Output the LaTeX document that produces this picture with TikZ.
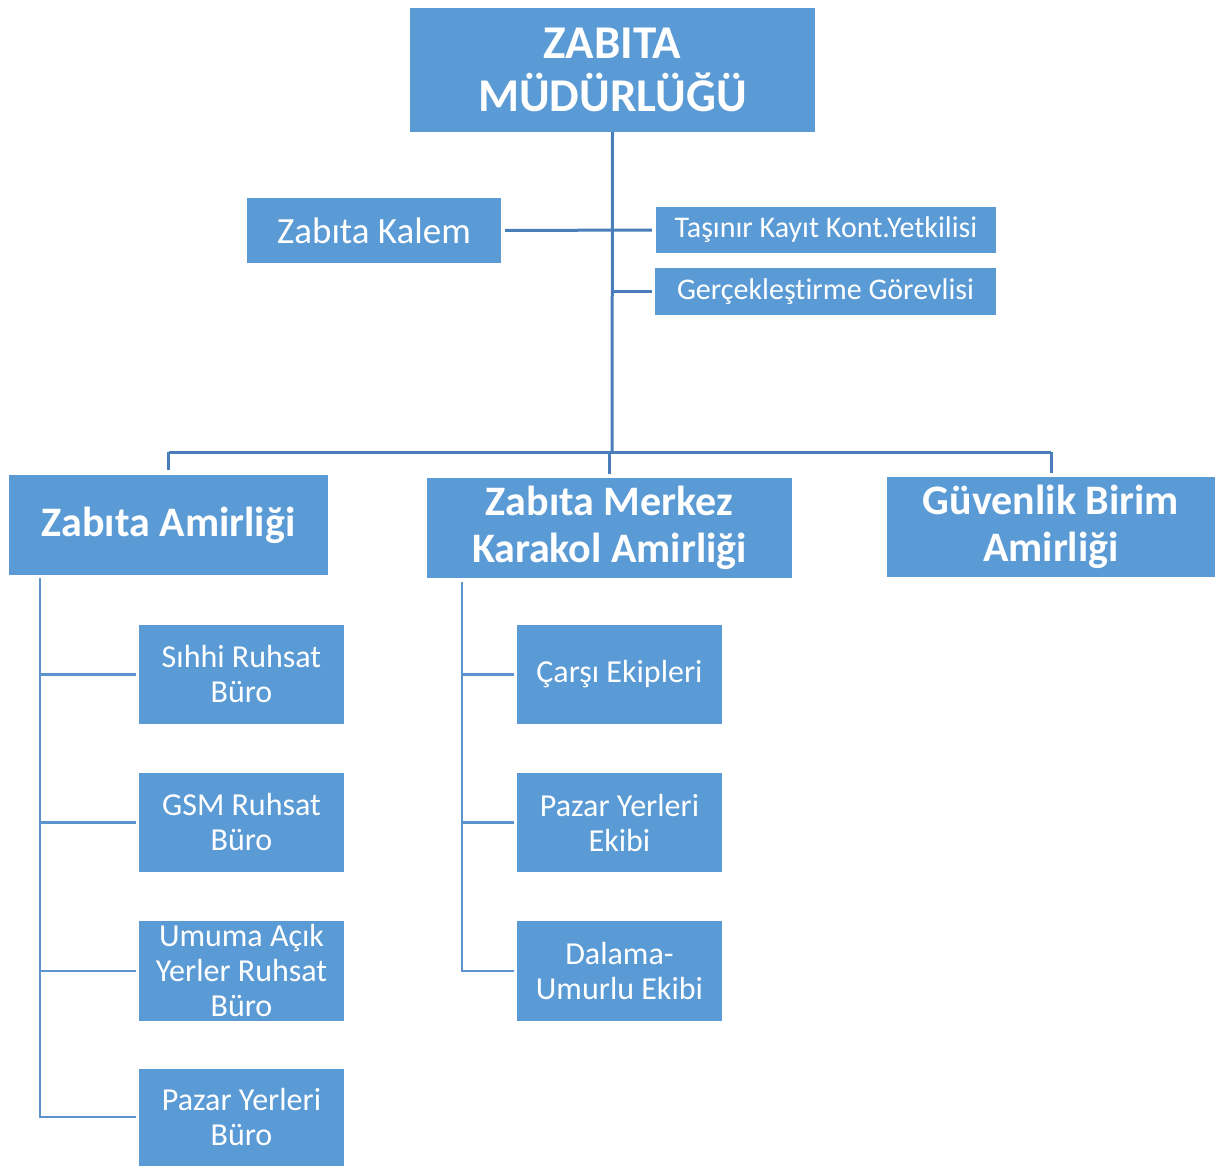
\documentclass[tikz,border=0pt]{standalone}
\usepackage{fontspec}
\setmainfont[Ligatures={NoCommon}]{Carlito}
\definecolor{boxblue}{HTML}{5B9BD5}
\definecolor{toplink}{HTML}{4A7EBB}
\definecolor{sublink}{HTML}{5B93CC}
\begin{document}
\begin{tikzpicture}[x=1pt,y=-1pt,
  box/.style={fill=boxblue, draw=none, text=white, align=center, inner sep=0pt,
    minimum width=#1},
  hdr/.style={font=\fontsize{47}{53}\selectfont\bfseries},
  lvl/.style={font=\fontsize{42}{47}\selectfont\bfseries},
  side/.style={font=\fontsize{30}{32}\selectfont},
  leaf/.style={font=\fontsize{32}{35}\selectfont},
  toplinks/.style={draw=toplink, line width=3pt},
  sublinks/.style={draw=sublink, line width=2.6pt}]
\useasboundingbox (0,0) rectangle (1219,1166);

% head office
\node[box=405pt, hdr, minimum height=124pt] (top) at (612.5,70) {ZABITA\\MÜDÜRLÜĞÜ};

% staff units beside the trunk
\node[box=254pt, minimum height=65pt, font=\fontsize{37}{42}\selectfont] (kalem) at (374,230.5) {Zabıta Kalem};
\node[box=340pt, minimum height=46pt, side] (tasinir) at (826,230) {Taşınır Kayıt Kont.Yetkilisi};
\node[box=341pt, minimum height=47pt, side] (gerc) at (825.5,291.5) {Gerçekleştirme Görevlisi};

% second level
\node[box=319pt, minimum height=100pt, lvl] (za) at (168.5,525) {Zabıta Amirliği};
\node[box=365pt, minimum height=100pt, lvl] (zmk) at (609.5,528) {Zabıta Merkez\\Karakol Amirliği};
\node[box=328pt, minimum height=100pt, lvl] (gba) at (1051,527) {Güvenlik Birim\\Amirliği};

% offices under Zabıta Amirliği
\node[box=205pt, minimum height=99pt, leaf] (a1) at (241.5,674.5) {Sıhhi Ruhsat\\Büro};
\node[box=205pt, minimum height=99pt, leaf] (a2) at (241.5,822.5) {GSM Ruhsat\\Büro};
\node[box=205pt, minimum height=100pt, leaf] (a3) at (241.5,971) {Umuma Açık\\Yerler Ruhsat\\Büro};
\node[box=205pt, minimum height=97pt, leaf] (a4) at (241.5,1117) {Pazar Yerleri\\Büro};

% teams under Zabıta Merkez Karakol Amirliği
\node[box=205pt, minimum height=99pt, leaf] (b1) at (619.5,674.5) {Çarşı Ekipleri};
\node[box=205pt, minimum height=99pt, leaf] (b2) at (619.5,822.5) {Pazar Yerleri\\Ekibi};
\node[box=205pt, minimum height=100pt, leaf] (b3) at (619.5,971) {Dalama-\\Umurlu Ekibi};

% junction points
\coordinate (bus) at (612,452);
\coordinate (lbus) at (40,578);
\coordinate (mbus) at (462,582);

% trunk and staff links
\draw[toplinks] (top.south) -- (bus);
\draw[toplinks, shorten <=4pt, shorten >=4pt] (kalem.east) -- (tasinir.west);
\draw[toplinks, shorten >=3pt] (top.south |- gerc.west) -- (gerc.west);

% bus to second level
\draw[toplinks] (za.north |- bus) -- (gba.north |- bus);
\draw[toplinks, shorten >=5pt] (za.north |- bus) -- (za.north);
\draw[toplinks, shorten >=4pt] (zmk.north |- bus) -- (zmk.north);
\draw[toplinks, shorten >=4pt] (gba.north |- bus) -- (gba.north);

% left branch
\draw[sublinks, shorten >=3pt] (lbus) |- (a4.west);
\foreach \n in {a1,a2,a3}
  \draw[sublinks, shorten >=3pt] (lbus |- \n.west) -- (\n.west);

% middle branch
\draw[sublinks, shorten >=3pt] (mbus) |- (b3.west);
\foreach \n in {b1,b2}
  \draw[sublinks, shorten >=3pt] (mbus |- \n.west) -- (\n.west);
\end{tikzpicture}
\end{document}
